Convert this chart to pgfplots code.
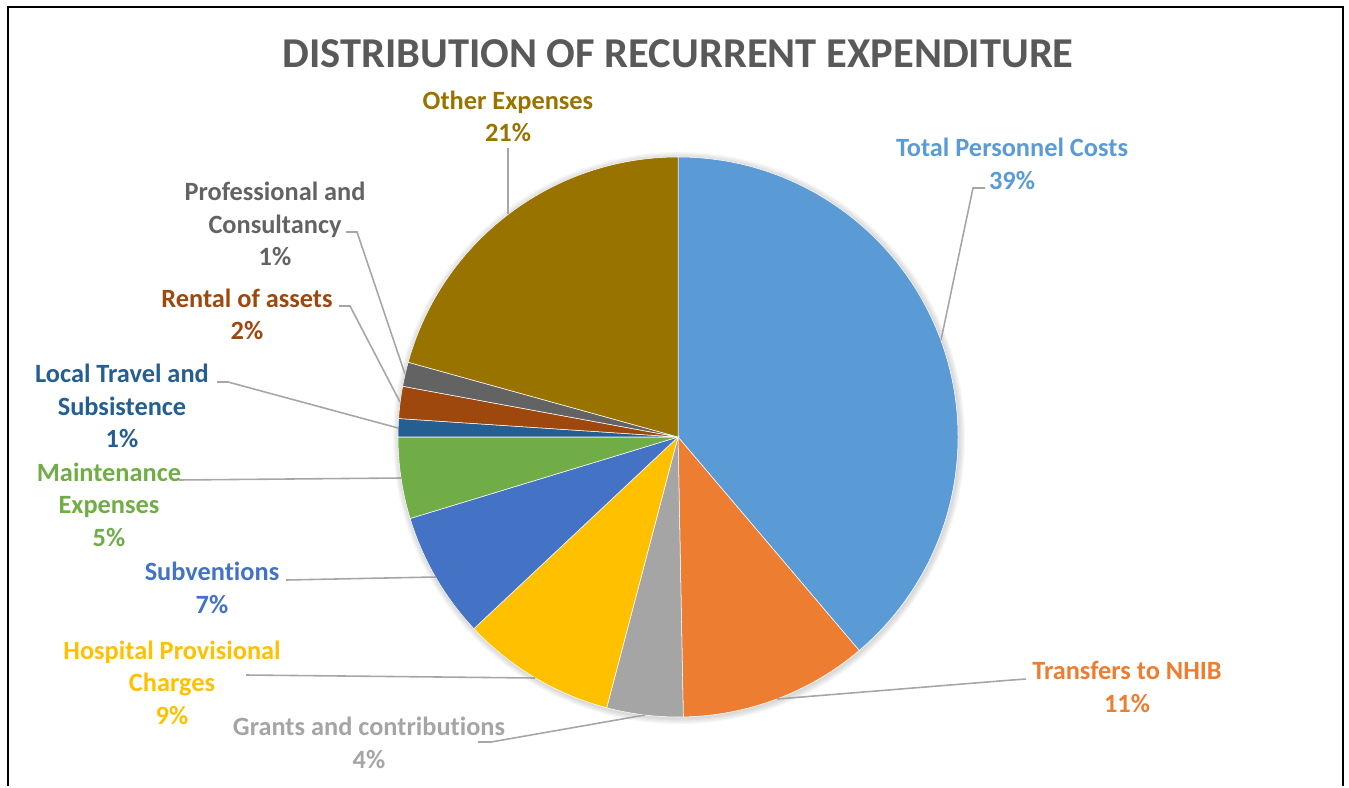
\documentclass[border=0pt]{standalone}
\usepackage{pgfplots}
\pgfplotsset{compat=1.18}
\usepackage{pgfplotstable}
\usepackage{fontspec}
\setmainfont{Carlito}[Ligatures=NoCommon]
\definecolor{cTPC}{HTML}{5B9BD5}
\definecolor{cNH}{HTML}{ED7D31}
\definecolor{cGr}{HTML}{A5A5A5}
\definecolor{cHo}{HTML}{FFC000}
\definecolor{cSu}{HTML}{4472C4}
\definecolor{cMa}{HTML}{70AD47}
\definecolor{cLo}{HTML}{255E91}
\definecolor{cRe}{HTML}{9E480E}
\definecolor{cPr}{HTML}{636363}
\definecolor{cOt}{HTML}{997300}
\definecolor{cTitle}{HTML}{595959}
\definecolor{cLead}{HTML}{A6A6A6}
\pgfplotstableread{
name value
TPC 38.8
NHIB 10.9
Grants 4.4
Hospital 8.9
Subventions 7.3
Maintenance 4.7
Local 1.05
Rental 1.85
Prof 1.4
Other 20.7
}\piedata
\newcommand{\lf}{\fontsize{7.5}{9.15}\selectfont\bfseries}
\begin{document}
\begin{tikzpicture}
\begin{axis}[
  scale only axis, width=13.49cm, height=7.86cm,
  xmin=0, xmax=1349, ymin=0, ymax=786, y dir=reverse,
  hide axis, clip=false]
\path (axis cs:0,0) rectangle (axis cs:1349,786);
\pgfplotsextra{
  \foreach \k in {1,...,5}{
    \fill[black, opacity=0.03] (axis cs:679,438) circle[radius=2.8cm+\k*0.012cm];
  }
  \gdef\cumang{90}
  \foreach \i/\col in {0/cTPC,1/cNH,2/cGr,3/cHo,4/cSu,5/cMa,6/cLo,7/cRe,8/cPr,9/cOt}{
    \pgfplotstablegetelem{\i}{value}\of\piedata
    \pgfmathsetmacro\sa{\cumang}
    \pgfmathsetmacro\ea{\cumang-3.6*\pgfplotsretval}
    \fill[\col, draw=white, line width=0.15pt] (axis cs:678,437) -- ++(\sa:2.8cm) arc[start angle=\sa, end angle=\ea, radius=2.8cm] -- cycle;
    \xdef\cumang{\ea}
  }
}
\draw[black, line width=0.6pt] (axis cs:8,786) -- (axis cs:8,7) -- (axis cs:1343,7) -- (axis cs:1343,786);
\node[anchor=base, text=cTitle, font=\fontsize{12.1}{14}\selectfont\bfseries] at (axis cs:678,68) {DISTRIBUTION OF RECURRENT EXPENDITURE};
\begin{scope}[cLead, line width=0.45pt]
\draw (axis cs:508,148) -- (axis cs:508,214);
\draw (axis cs:941,340) -- (axis cs:973,188) -- (axis cs:985,188);
\draw (axis cs:777,699) -- (axis cs:1012,680) -- (axis cs:1026,679);
\draw (axis cs:645,715) -- (axis cs:491,742) -- (axis cs:478,742);
\draw (axis cs:535,678) -- (axis cs:246,675);
\draw (axis cs:436,577) -- (axis cs:286,580);
\draw (axis cs:401,478) -- (axis cs:179,480);
\draw (axis cs:398,428) -- (axis cs:228,382) -- (axis cs:217,382);
\draw (axis cs:400,402) -- (axis cs:350,306) -- (axis cs:339,306);
\draw (axis cs:405,374) -- (axis cs:357,232) -- (axis cs:346,232);
\end{scope}
\begin{scope}[every node/.style={anchor=base, font=\lf, inner sep=0pt}]
\node[text=cOt] at (axis cs:508,109.5) {Other Expenses};
\node[text=cOt] at (axis cs:508,141.5) {21\%};
\node[text=cTPC] at (axis cs:1012,156.5) {Total Personnel Costs};
\node[text=cTPC] at (axis cs:1012,189.5) {39\%};
\node[text=cNH] at (axis cs:1127,679.5) {Transfers to NHIB};
\node[text=cNH] at (axis cs:1127,712.5) {11\%};
\node[text=cGr] at (axis cs:369,735.5) {Grants and contributions};
\node[text=cGr] at (axis cs:369,768.5) {4\%};
\node[text=cHo] at (axis cs:172,659.5) {Hospital Provisional};
\node[text=cHo] at (axis cs:172,691.5) {Charges};
\node[text=cHo] at (axis cs:172,724.5) {9\%};
\node[text=cSu] at (axis cs:212,580.5) {Subventions};
\node[text=cSu] at (axis cs:212,613.5) {7\%};
\node[text=cMa] at (axis cs:109,481.5) {Maintenance};
\node[text=cMa] at (axis cs:109,513.5) {Expenses};
\node[text=cMa] at (axis cs:109,546.5) {5\%};
\node[text=cLo] at (axis cs:122,382.5) {Local Travel and};
\node[text=cLo] at (axis cs:122,415.5) {Subsistence};
\node[text=cLo] at (axis cs:122,447.5) {1\%};
\node[text=cRe] at (axis cs:247,307.5) {Rental of assets};
\node[text=cRe] at (axis cs:247,339.5) {2\%};
\node[text=cPr] at (axis cs:275,200.5) {Professional and};
\node[text=cPr] at (axis cs:275,233.5) {Consultancy};
\node[text=cPr] at (axis cs:275,265.5) {1\%};
\end{scope}
\end{axis}
\end{tikzpicture}
\end{document}
